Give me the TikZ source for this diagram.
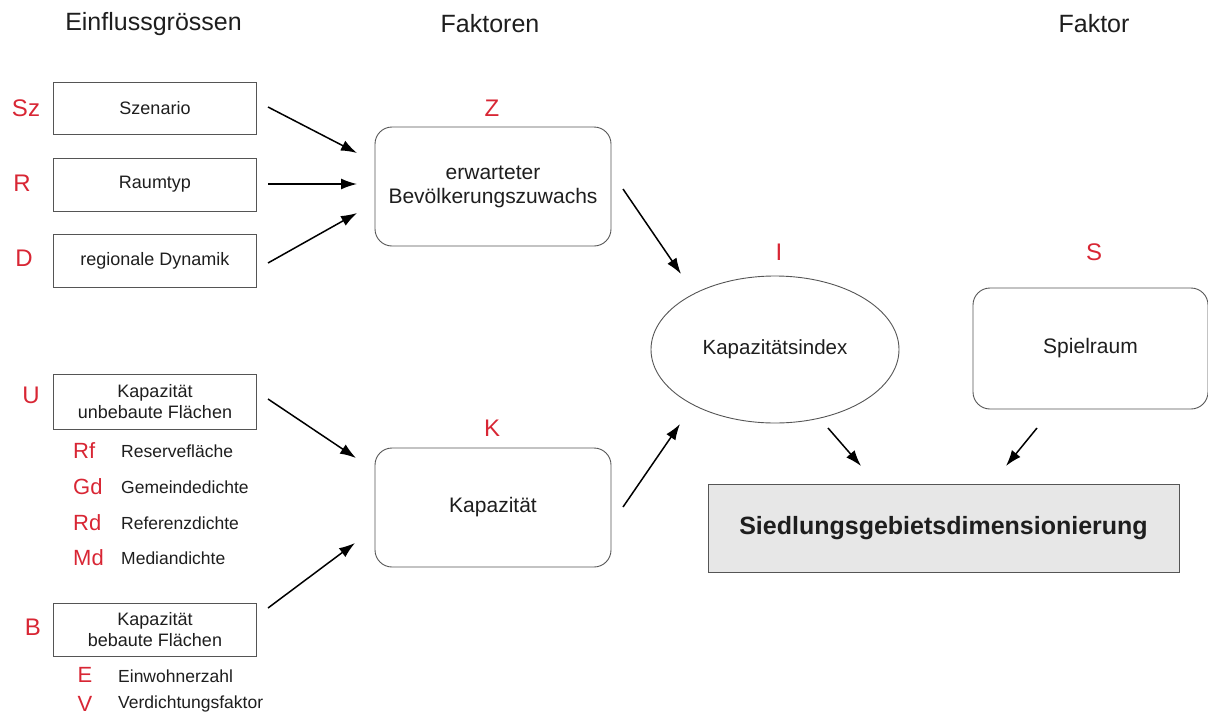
\documentclass[tikz,border=0pt]{standalone}
\usepackage{fontspec}
\setmainfont{Liberation Sans}
\usetikzlibrary{arrows.meta,shapes.geometric}
\definecolor{lblred}{RGB}{216,38,52}
\definecolor{boxgray}{RGB}{85,85,85}
\definecolor{fillgray}{RGB}{231,231,231}
\definecolor{txt}{RGB}{30,30,30}
\begin{document}
\begin{tikzpicture}[x=1pt,y=-1pt,
  every node/.style={text=txt},
  inbox/.style={draw=boxgray,line width=0.9pt,minimum width=203pt,inner sep=0pt,align=center,font=\fontsize{18}{21}\selectfont},
  facbox/.style={draw=boxgray,line width=0.9pt,rounded corners=17pt,minimum width=236pt,minimum height=119pt,inner sep=0pt,align=center,font=\fontsize{21}{25}\selectfont},
  heading/.style={font=\fontsize{25}{30}\selectfont,inner sep=0pt},
  redlbl/.style={text=lblred,font=\fontsize{24}{28}\selectfont,inner sep=0pt},
  sublbl/.style={text=lblred,font=\fontsize{22}{26}\selectfont,inner sep=0pt},
  subtxt/.style={font=\fontsize{17.5}{21}\selectfont,inner sep=0pt,anchor=west},
  arr/.style={line width=1.5pt,-{Latex[length=16pt,width=11pt]}}
]
\useasboundingbox (0,0) rectangle (1208,715);

% headings
\node[heading] (h1) at (153.5,24) {Einflussgrössen};
\node[heading] (h2) at (490,24) {Faktoren};
\node[heading] (h3) at (1094,24) {Faktor};

% input boxes
\node[inbox,minimum height=52pt] (sz) at (155,108) {Szenario};
\node[inbox,minimum height=53pt] (r) at (155,184.5) {Raumtyp};
\node[inbox,minimum height=53pt] (d) at (155,260.5) {regionale Dynamik};
\node[inbox,minimum height=55pt] (u) at (155,401.5) {Kapazität\\unbebaute Flächen};
\node[inbox,minimum height=53pt] (b) at (155,629.5) {Kapazität\\bebaute Flächen};

\node[redlbl] (lsz) at (26,108) {Sz};
\node[redlbl] (lr) at (22,183) {R};
\node[redlbl] (ld) at (24,258) {D};
\node[redlbl] (lu) at (31,395) {U};
\node[redlbl] (lb) at (33,627) {B};

% sub items
\node[sublbl,anchor=west] (lrf) at (73,451) {Rf};
\node[subtxt] (trf) at (121,451) {Reservefläche};
\node[sublbl,anchor=west] (lgd) at (73,487) {Gd};
\node[subtxt] (tgd) at (121,487) {Gemeindedichte};
\node[sublbl,anchor=west] (lrd) at (73,523) {Rd};
\node[subtxt] (trd) at (121,523) {Referenzdichte};
\node[sublbl,anchor=west] (lmd) at (73,558) {Md};
\node[subtxt] (tmd) at (121,558) {Mediandichte};
\node[sublbl] (le) at (85,675) {E};
\node[subtxt] (te) at (118,676) {Einwohnerzahl};
\node[sublbl] (lv) at (85,704) {V};
\node[subtxt] (tv) at (118,704) {Verdichtungsfaktor};

% factor boxes
\node[facbox] (z) at (493,186.5) {\raisebox{-3pt}{\begin{tabular}{@{}c@{}}erwarteter\\[-1pt]Bevölkerungszuwachs\end{tabular}}};
\node[facbox] (k) at (493,507.5) {Kapazität};
\node[redlbl] (lz) at (492,108) {Z};
\node[redlbl] (lk) at (492,428) {K};

\node[draw=boxgray,line width=0.9pt,ellipse,minimum width=248pt,minimum height=147pt,inner sep=0pt,font=\fontsize{20.5}{24}\selectfont] (i) at (775,349.5) {Kapazitätsindex};
\node[redlbl] (li) at (779,252) {I};

\node[facbox,minimum width=235pt,minimum height=121pt] (s) at (1090.5,348.5) {Spielraum};
\node[redlbl] (ls) at (1094,252) {S};

\node[draw=boxgray,line width=0.9pt,fill=fillgray,minimum width=471pt,minimum height=88pt,inner sep=0pt,font=\fontsize{25}{30}\selectfont\bfseries] (sd) at (943.5,528) {Siedlungsgebietsdimensionierung};

% connector end points
\coordinate (a1s) at (268,107); \coordinate (a1e) at (357,153);
\coordinate (a2s) at (268,184); \coordinate (a2e) at (357,184);
\coordinate (a3s) at (268,263); \coordinate (a3e) at (357,213);
\coordinate (a4s) at (268,399); \coordinate (a4e) at (356,458);
\coordinate (a5s) at (268,608); \coordinate (a5e) at (355,543);
\coordinate (a6s) at (623,189); \coordinate (a6e) at (681,274);
\coordinate (a7s) at (623,507); \coordinate (a7e) at (680,424);
\coordinate (a8s) at (828,428); \coordinate (a8e) at (861,466);
\coordinate (a9s) at (1037,428); \coordinate (a9e) at (1006,466);

\draw[arr] (a1s) -- (a1e);
\draw[arr] (a2s) -- (a2e);
\draw[arr] (a3s) -- (a3e);
\draw[arr] (a4s) -- (a4e);
\draw[arr] (a5s) -- (a5e);
\draw[arr] (a6s) -- (a6e);
\draw[arr] (a7s) -- (a7e);
\draw[arr] (a8s) -- (a8e);
\draw[arr] (a9s) -- (a9e);
\end{tikzpicture}
\end{document}
